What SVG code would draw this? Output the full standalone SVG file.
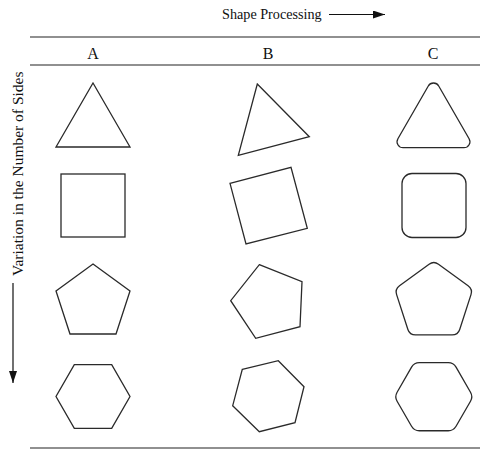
<svg xmlns="http://www.w3.org/2000/svg" width="492" height="450" viewBox="0 0 492 450">
  <defs>
    <marker id="head" viewBox="0 0 12 8" refX="12" refY="4" markerWidth="12" markerHeight="8" markerUnits="userSpaceOnUse" orient="auto">
      <path d="M0,0 L12,4 L0,8 Z" fill="#111"/>
    </marker>
    <style>
      .rule { stroke: #222; stroke-width: 1.2; fill: none; }
      .shape { stroke: #2a2a2a; stroke-width: 1.3; fill: none; stroke-linejoin: miter; }
      .axis { stroke: #111; stroke-width: 1.2; fill: none; }
      .title { font-family: "Liberation Serif", "Times New Roman", serif; font-size: 14.2px; fill: #111; }
      .side { font-size: 15.5px; }
      .col { font-family: "Liberation Serif", "Times New Roman", serif; font-size: 16px; fill: #111; text-anchor: middle; }
    </style>
  </defs>
  <rect width="492" height="450" fill="#fff"/>

  <!-- axis titles -->
  <g id="axis-x">
    <text class="title" x="222" y="19">Shape Processing</text>
    <line class="axis" x1="329" y1="14.5" x2="385" y2="14.5" marker-end="url(#head)"/>
  </g>
  <g id="axis-y">
    <text class="title side" transform="translate(23,276) rotate(-90)">Variation in the Number of Sides</text>
    <line class="axis" x1="13" y1="283" x2="13" y2="383" marker-end="url(#head)"/>
  </g>

  <!-- table rules -->
  <g id="rules">
    <line class="rule" x1="30" y1="37" x2="480" y2="37"/>
    <line class="rule" x1="30" y1="65" x2="480" y2="65"/>
    <line class="rule" x1="30" y1="448" x2="480" y2="448"/>
  </g>

  <!-- column headings -->
  <g id="headings">
    <text class="col" x="93" y="59">A</text>
    <text class="col" x="268" y="59">B</text>
    <text class="col" x="433" y="59">C</text>
  </g>

  <!-- column A: regular polygons -->
  <g id="a-triangle"><polygon class="shape" points="93,83 130,147 56,147"/></g>
  <g id="a-square"><rect class="shape" x="61" y="174" width="64" height="63"/></g>
  <g id="a-pentagon"><polygon class="shape" points="93,264 130,291 116,334 70,334 56,291"/></g>
  <g id="a-hexagon"><polygon class="shape" points="74.3,364.7 111.7,364.7 130,396.5 111.7,428.3 74.3,428.3 56,396.5"/></g>

  <!-- column B: rotated polygons -->
  <g id="b-triangle"><polygon class="shape" points="257.3,84 309.3,136.7 238.3,155.3"/></g>
  <g id="b-square"><polygon class="shape" points="230,183.3 291,167.3 307.3,228.3 246,244"/></g>
  <g id="b-pentagon"><polygon class="shape" points="259.3,264.7 302,281.7 300,326.7 255.7,338.3 230.7,300.7"/></g>
  <g id="b-hexagon"><polygon class="shape" points="242.3,369.3 278.3,360.7 304,386.7 295,422.7 259.3,431.7 232.7,405.7"/></g>

  <!-- column C: rounded polygons -->
  <g id="c-triangle">
    <path class="shape" d="M438.7,86 L469.1,138.7 A6,6 0 0 1 463.9,147.7 L403.1,147.7 A6,6 0 0 1 397.9,138.7 L428.3,86 A6,6 0 0 1 438.7,86 Z"/>
  </g>
  <g id="c-square"><rect class="shape" x="402" y="173.5" width="64" height="64" rx="10" ry="10"/></g>
  <g id="c-pentagon">
    <path class="shape" d="M438.5,264.22 L468.09,285.71 A8,8 0 0 1 470.99,294.66 L459.7,329.44 A8,8 0 0 1 452.09,334.97 L415.51,334.97 A8,8 0 0 1 407.9,329.44 L396.61,294.66 A8,8 0 0 1 399.51,285.71 L429.1,264.22 A8,8 0 0 1 438.5,264.22 Z"/>
  </g>
  <g id="c-hexagon">
    <path class="shape" d="M470.5,401.2 L456.05,426.23 A9,9 0 0 1 448.25,430.73 L419.35,430.73 A9,9 0 0 1 411.55,426.23 L397.1,401.2 A9,9 0 0 1 397.1,392.2 L411.55,367.17 A9,9 0 0 1 419.35,362.67 L448.25,362.67 A9,9 0 0 1 456.05,367.17 L470.5,392.2 A9,9 0 0 1 470.5,401.2 Z"/>
  </g>
</svg>
